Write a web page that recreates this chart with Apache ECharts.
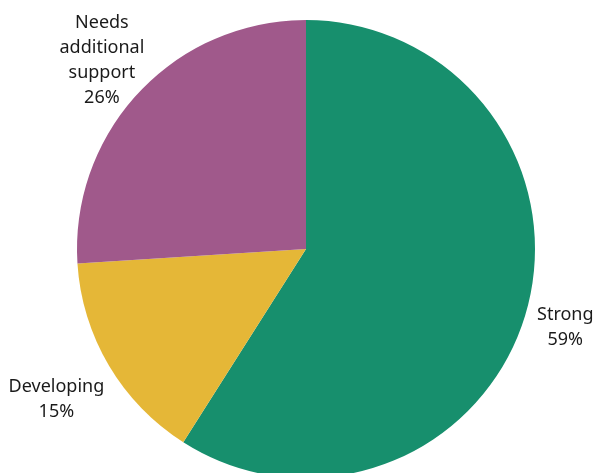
<!DOCTYPE html>
<html>
<head>
<meta charset="utf-8">
<style>
  html, body { margin: 0; padding: 0; background: #ffffff; }
  #chart { width: 597px; height: 473px; }
</style>
<script src="https://cdn.jsdelivr.net/npm/echarts@6/dist/echarts.min.js"></script>
</head>
<body>
<div id="chart"></div>
<script>
// Share of students by proficiency level
const categories = ['Strong', 'Developing', 'Needs additional support'];
const shares = [59, 15, 26];
const colors = ['#178F6D', '#E5B737', '#A0598B'];

// Pie geometry (pixels)
const CX = 306, CY = 249, R = 229;
// Radial distance of each label centre beyond the rim
const labelGap = [41, 61, 51];

const total = shares.reduce((a, b) => a + b, 0);

// Mid angle of each slice, measured clockwise from 12 o'clock
const midAngles = [];
let acc = 0;
shares.forEach(v => {
  midAngles.push(((acc + v / 2) / total) * 2 * Math.PI);
  acc += v;
});

const chart = echarts.init(document.getElementById('chart'), null, { renderer: 'canvas' });

chart.setOption({
  animation: false,
  color: colors,
  series: [{
    type: 'pie',
    center: [CX, CY],
    radius: R,
    startAngle: 90,
    clockwise: true,
    silent: true,
    avoidLabelOverlap: false,
    itemStyle: { borderWidth: 0 },
    label: {
      show: true,
      position: 'outside',
      overflow: 'none',
      bleedMargin: 0,
      fontFamily: 'Noto Sans',
      fontSize: 18,
      lineHeight: 25,
      color: '#1a1a1a',
      align: 'center',
      formatter: p => {
        const name = p.name.length > 12 ? p.name.split(' ').join('\n') : p.name;
        return name + '\n' + Math.round(p.percent) + '%';
      }
    },
    labelLine: { show: false },
    labelLayout: params => {
      const i = params.dataIndex;
      const a = midAngles[i];
      const d = R + labelGap[i];
      return {
        x: CX + d * Math.sin(a),
        y: CY - d * Math.cos(a) + 3,
        align: 'center',
        verticalAlign: 'middle'
      };
    },
    emphasis: { disabled: true },
    data: categories.map((c, i) => ({ name: c, value: shares[i] }))
  }]
});
</script>
</body>
</html>
